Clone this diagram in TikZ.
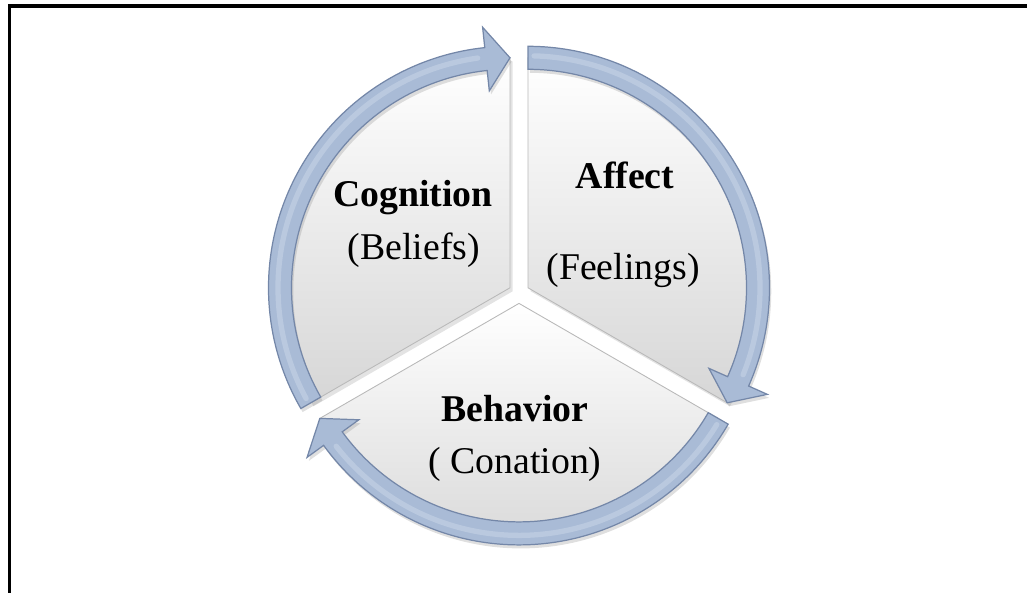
\documentclass[tikz,border=0pt]{standalone}
\usepackage{fontspec}
\setmainfont{Liberation Serif}
\usetikzlibrary{calc, shadows}

\definecolor{ringblue}{HTML}{A9BBD6}
\definecolor{ringedge}{HTML}{7487A8}
\definecolor{ringlight}{HTML}{C6D3E6}

% curved arrow on the rim of one slice, clockwise from #1 to #2
\newcommand{\rimarrow}[2]{%
  \path[rim] (#1:241.5) arc[start angle=#1, end angle=#2+6, radius=241.5]
    -- (#2+6:262) -- (#2:230) -- (#2+6:198)
    -- (#2+6:218.5) arc[start angle=#2+6, end angle=#1, radius=218.5] -- cycle;
  \draw[rimlight] (#1-1.5:232) arc[start angle=#1-1.5, end angle=#2+8, radius=232];
}

\begin{document}
\begin{tikzpicture}[
    x=0.02cm, y=0.02cm,
    slice/.style={top color=white, bottom color=gray!32, draw=gray!55, line width=0.5pt,
                  drop shadow={opacity=0.22, shadow xshift=1.5pt, shadow yshift=-2pt}},
    rim/.style={fill=ringblue, draw=ringedge, line width=0.7pt,
                drop shadow={opacity=0.25, shadow xshift=1pt, shadow yshift=-2pt}},
    rimlight/.style={ringlight, line width=3pt, line cap=round, opacity=0.6},
    head/.style={font=\fontsize{21.5}{26}\selectfont\bfseries},
    sub/.style={font=\fontsize{21.5}{26}\selectfont}
]
    \clip (0,0) rectangle (1027,592);
    \draw[line width=1.8pt] (9.5,586) rectangle (1040,-20);

    % slice centres, pushed out from the middle
    \coordinate (mid) at (519,299);
    \coordinate (cog) at ($(mid)+(150:10.4)$);
    \coordinate (aff) at ($(mid)+(30:10.4)$);
    \coordinate (beh) at ($(mid)+(270:10.4)$);

    \begin{scope}[shift={(cog)}]
        \path[slice] (0,0) -- (210:230) arc[start angle=210, end angle=90, radius=230] -- cycle;
    \end{scope}
    \begin{scope}[shift={(aff)}]
        \path[slice] (0,0) -- (90:230) arc[start angle=90, end angle=-30, radius=230] -- cycle;
    \end{scope}
    \begin{scope}[shift={(beh)}]
        \path[slice] (0,0) -- (330:230) arc[start angle=330, end angle=210, radius=230] -- cycle;
    \end{scope}

    \begin{scope}[shift={(cog)}]
        \rimarrow{210}{90}
    \end{scope}
    \begin{scope}[shift={(aff)}]
        \rimarrow{90}{-30}
    \end{scope}
    \begin{scope}[shift={(beh)}]
        \rimarrow{330}{210}
    \end{scope}

    \node[head] (cogtitle) at (413,394) {Cognition};
    \node[sub] (cogsub) at (414,342) {(Beliefs)};
    \node[head] (afftitle) at (625,417) {Affect};
    \node[sub] (affsub) at (623,322) {(Feelings)};
    \node[head] (behtitle) at (515,183) {Behavior};
    \node[sub] (behsub) at (515,128) {( Conation)};
\end{tikzpicture}
\end{document}
